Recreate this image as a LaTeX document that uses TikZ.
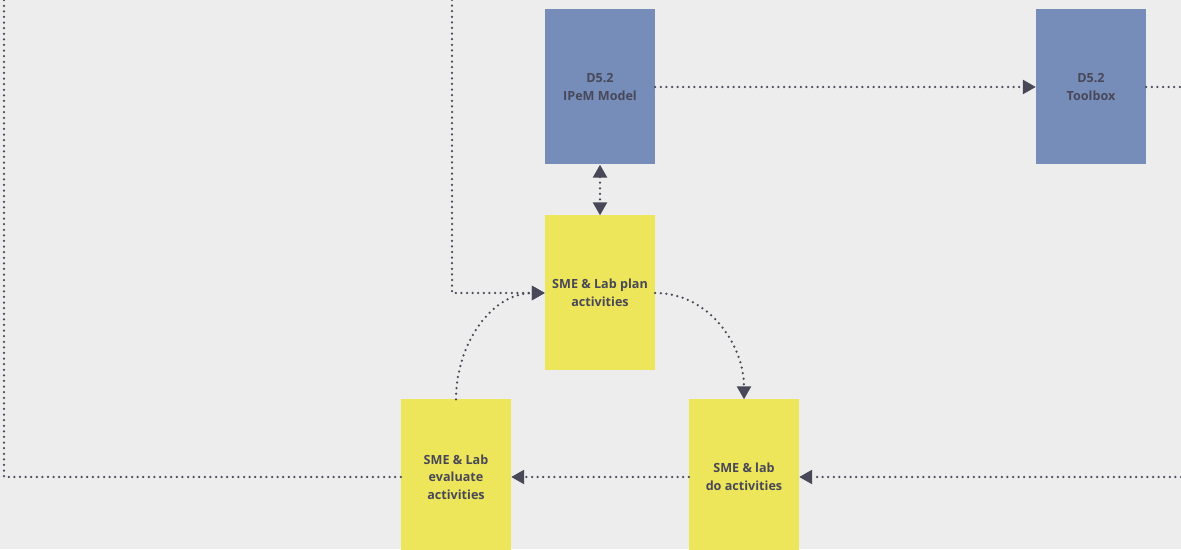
\documentclass[tikz,border=0pt]{standalone}
\usepackage{fontspec}
\setmainfont{Open Sans}
\usetikzlibrary{arrows.meta}
\definecolor{bgc}{HTML}{EDEDED}
\definecolor{bluebox}{HTML}{768DBA}
\definecolor{yellowbox}{HTML}{EDE55A}
\definecolor{ink}{HTML}{484858}
\tikzset{
  card/.style={minimum width=110pt, minimum height=155pt, inner sep=0pt,
    align=center, text=ink, font=\bfseries\fontsize{12.6}{17.5}\selectfont},
  deliverable/.style={card, fill=bluebox},
  activity/.style={card, fill=yellowbox},
  flow/.style={ink, line width=2.5pt, line cap=round,
    dash pattern=on 0pt off 5.6pt},
  tip/.style={-{Triangle[length=13pt,width=14pt]}},
}
\begin{document}
\begin{tikzpicture}[x=1pt,y=1pt]
  \fill[bgc] (0,0) rectangle (1181,549);
  \useasboundingbox (0,0) rectangle (1181,549);

  % boxes
  \node[deliverable] (ipem) at (600,462) {D5.2\\IPeM Model};
  \node[deliverable] (tool) at (1091,462) {D5.2\\Toolbox};
  \node[activity] (plan) at (600,256) {SME \& Lab plan\\activities};
  \node[activity] (eval) at (456,72) {SME \& Lab\\evaluate\\activities};
  \node[activity] (do) at (744,72) {SME \& lab\\do activities};

  % loose ends at the page border
  \coordinate (topin) at (452,549);
  \coordinate (rightout) at (1181,462);
  \coordinate (rightin) at (1181,72);
  \coordinate (leftcorner) at (4,72);
  \coordinate (lefttop) at (4,549);

  % connectors
  \draw[flow,tip] (ipem.east) -- (tool.west);
  \draw[flow] (tool.east) -- (rightout);
  \draw[flow,{Triangle[length=13pt,width=14pt]}-{Triangle[length=13pt,width=14pt]}] (ipem.south) -- (plan.north);
  \draw[flow,tip] (topin) |- (plan.west);
  \draw[flow,tip] (plan.east) to[out=0,in=90] (do.north);
  \draw[flow,tip] (eval.north) to[out=90,in=180] (plan.west);
  \draw[flow,tip] (do.west) -- (eval.east);
  \draw[flow,tip] (rightin) -- (do.east);
  \draw[flow] (eval.west) -- (leftcorner) -- (lefttop);
\end{tikzpicture}
\end{document}
